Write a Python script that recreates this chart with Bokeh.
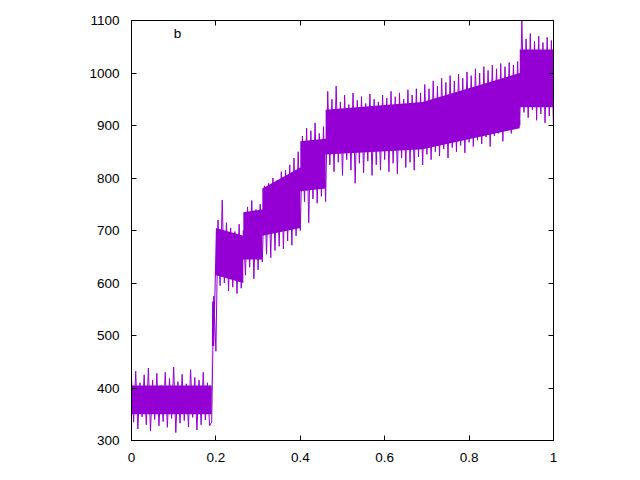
from bokeh.plotting import figure
from bokeh.models import FixedTicker, LinearAxis, Range1d, Label
from bokeh.embed import file_html
from bokeh.resources import INLINE

signal = [
    420, 335, 432, 322, 410, 345, 425, 330, 438, 318, 415, 340, 428, 328, 405, 336, 430, 325, 418, 342,
    440, 315, 412, 333, 426, 338, 408, 326, 435, 344, 420, 320, 415, 330, 430, 339, 410, 328,
    335, 575, 470,
    720, 595, 758, 600, 715, 585, 705, 592, 698, 580, 712, 590, 700,
    615, 745, 630, 757, 608, 740, 625, 750, 640,
    785, 655, 790, 648, 800, 662, 795, 670, 812, 665, 815, 680, 825, 672, 838, 690, 850, 700,
    880, 755, 895, 715, 890, 760, 905, 752, 885, 765, 898, 755,
    965, 825, 950, 812, 975, 830, 945, 805, 958, 835, 940, 815, 962, 790, 948, 828, 955, 810, 942, 832,
    960, 805, 950, 825, 945, 815, 958, 835, 952, 812, 965, 828, 955, 808, 962, 838, 950, 820, 968, 830,
    958, 815, 970, 840, 962, 825,
    978, 845, 970, 835, 985, 850, 975, 842, 990, 855, 982, 838, 995, 858, 985, 850, 998, 862, 990, 848,
    1002, 868, 995, 860, 1008, 872, 1000, 865, 1012, 878, 1005, 860, 1015, 880, 1008, 885, 1018, 870,
    1012, 890, 1020, 885, 1015, 895, 1022, 900,
    1100, 925, 1065, 915, 1075, 930, 1060, 910, 1070, 922, 1058, 905, 1068, 918, 1062, 895,
]
x_step = 0.005
time = [i * x_step for i in range(len(signal))]

# dense core of the noisy band (where the trace is solid)
band_x = [0, 0.19, 0.191, 0.196, 0.2, 0.265, 0.265, 0.31, 0.31, 0.4, 0.4, 0.46, 0.46, 0.69, 0.92, 0.92, 1.0]
band_lo = [350, 350, 480, 480, 615, 600, 645, 645, 690, 705, 775, 780, 845, 855, 895, 935, 935]
band_hi = [405, 405, 565, 565, 705, 690, 735, 740, 780, 820, 870, 875, 930, 945, 1000, 1045, 1045]

x_ticks = [0, 0.2, 0.4, 0.6, 0.8, 1.0]
x_tick_labels = ["0", "0.2", "0.4", "0.6", "0.8", "1"]
y_ticks = [300, 400, 500, 600, 700, 800, 900, 1000, 1100]
y_tick_labels = ["300", "400", "500", "600", "700", "800", "900", "1000", "1100"]
panel_label = "b"

FONT = "Liberation Sans"
FS = "13.5px"
COLOR = "#9400D3"

p = figure(width=640, height=480, output_backend="svg", toolbar_location=None,
           x_range=Range1d(0, 1), y_range=Range1d(300, 1100),
           min_border_left=131, min_border_right=87, min_border_top=20, min_border_bottom=40)
p.grid.visible = False
p.outline_line_color = "black"
p.outline_line_width = 1
p.background_fill_color = "white"
p.border_fill_color = "white"

p.varea(x=band_x, y1=band_lo, y2=band_hi, fill_color=COLOR)
p.line(time, signal, line_color=COLOR, line_width=1)

def style(ax, labels, ticks, show):
    ax.ticker = FixedTicker(ticks=ticks)
    ax.major_label_overrides = {t: l for t, l in zip(ticks, labels)}
    ax.major_tick_in = 5
    ax.major_tick_out = 0
    ax.minor_tick_in = 0
    ax.minor_tick_out = 0
    ax.axis_line_color = "black"
    ax.major_tick_line_color = "black"
    ax.major_label_text_font = FONT
    ax.major_label_text_font_size = FS
    ax.major_label_text_color = "black"
    ax.major_label_standoff = 12
    if not show:
        ax.major_label_text_alpha = 0
        ax.major_label_text_font_size = "0px"
        ax.major_label_standoff = 0

style(p.xaxis[0], x_tick_labels, x_ticks, True)
style(p.yaxis[0], y_tick_labels, y_ticks, True)

top = LinearAxis()
style(top, x_tick_labels, x_ticks, False)
p.add_layout(top, "above")
right = LinearAxis()
style(right, y_tick_labels, y_ticks, False)
p.add_layout(right, "right")

p.add_layout(Label(x=0.109, y=1075, text=panel_label, text_align="center", text_baseline="middle",
                   text_font=FONT, text_font_size=FS, text_color="black"))

open("out.html", "w").write(file_html(p, INLINE))
